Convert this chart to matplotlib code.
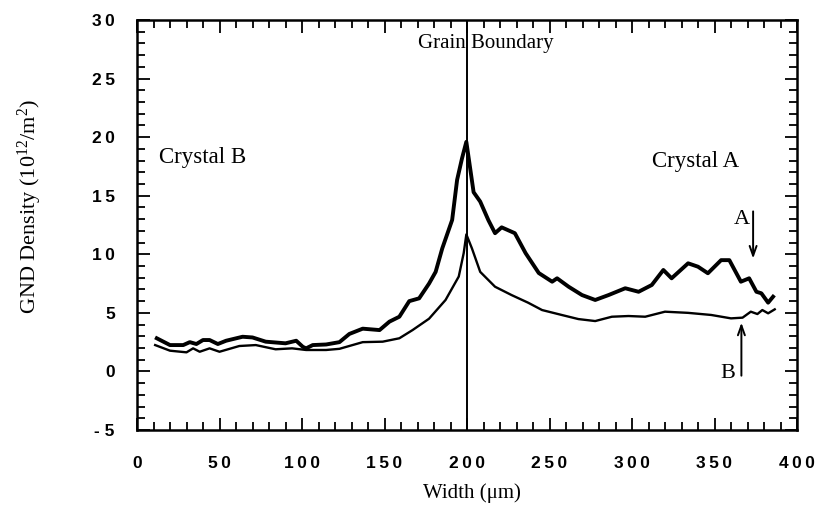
import matplotlib
matplotlib.use("Agg")
import matplotlib.pyplot as plt
from matplotlib.ticker import MultipleLocator, FixedLocator

# ---- data ----
xa = [12, 20, 28, 32, 36, 40, 44, 49, 54, 64, 70, 78, 90, 96.5, 100.5, 102.5, 106.5,
      114.6, 122.7, 128.7, 136.8, 147, 153, 159, 165, 171, 177, 181, 185, 191, 194,
      197, 199.6, 204, 208, 213, 217, 221, 229, 235.5, 243.5, 251.6, 254.6, 261.6,
      269.7, 277.7, 285.8, 295.9, 304, 312, 319, 324, 334, 340, 346, 354, 359, 366,
      371, 375.4, 378.4, 382.5, 385.5]
ya = [2.83, 2.25, 2.25, 2.5, 2.34, 2.68, 2.68, 2.34, 2.62, 2.96, 2.9, 2.54, 2.4, 2.62,
      2.1, 1.97, 2.25, 2.3, 2.5, 3.2, 3.65, 3.53, 4.25, 4.67, 6.0, 6.24, 7.5, 8.5,
      10.5, 12.93, 16.35, 18.2, 19.6, 15.3, 14.5, 12.9, 11.8, 12.3, 11.8, 10.1, 8.4,
      7.66, 7.95, 7.23, 6.52, 6.1, 6.52, 7.1, 6.8, 7.38, 8.66, 7.95, 9.23, 8.94, 8.38,
      9.5, 9.5, 7.66, 7.95, 6.8, 6.67, 5.87, 6.38]

xb = [11, 20, 30, 34, 38, 44, 50, 62, 72, 84, 94, 102.5, 114.6, 122.7, 136.8, 148.9,
      159, 167, 177, 187, 195, 198, 199.6, 203, 208, 217, 227, 237, 245.5, 257.4,
      267.5, 277.7, 287.8, 297.9, 308, 320, 334, 348, 360, 367, 372, 376, 379, 382.5,
      386.5]
yb = [2.25, 1.77, 1.63, 1.97, 1.68, 1.97, 1.68, 2.17, 2.25, 1.89, 1.97, 1.83, 1.83,
      1.93, 2.5, 2.54, 2.83, 3.53, 4.5, 6.1, 8.1, 10.1, 11.7, 10.5, 8.5, 7.23, 6.52,
      5.87, 5.24, 4.82, 4.47, 4.3, 4.67, 4.73, 4.67, 5.1, 5.0, 4.82, 4.53, 4.59, 5.1,
      4.9, 5.24, 4.96, 5.3]

xticks = [0, 50, 100, 150, 200, 250, 300, 350, 400]
yticks = [-5, 0, 5, 10, 15, 20, 25, 30]
boundary_x = 200

plt.rcParams['mathtext.fontset'] = 'custom'
plt.rcParams['mathtext.rm'] = 'Liberation Serif'
plt.rcParams['mathtext.it'] = 'Liberation Serif:italic'

serif = ['Liberation Serif', 'DejaVu Serif']
sans = ['Liberation Sans', 'DejaVu Sans']

fig = plt.figure(figsize=(8.19, 5.07), dpi=100)
ax = fig.add_axes([137/819, 1-430/507, 660/819, 410/507])

ax.plot(xa, ya, color='black', lw=2.8, solid_joinstyle='round')
ax.plot(xb, yb, color='black', lw=1.7, solid_joinstyle='round')
ax.axvline(boundary_x, color='black', lw=1.4)

ax.set_xlim(0, 400)
ax.set_ylim(-5, 30)

ax.xaxis.set_major_locator(FixedLocator(xticks))
ax.xaxis.set_minor_locator(MultipleLocator(10))
ax.yaxis.set_major_locator(FixedLocator(yticks))
ax.yaxis.set_minor_locator(MultipleLocator(1))

def fmt(v, sep):
    s = str(v)
    if s.startswith('-'):
        return '- ' + sep.join(s[1:])
    return sep.join(s)

ax.set_xticklabels([fmt(v, '\u2009') for v in xticks], family=sans,
                   fontweight='bold', fontsize=12.5)
ax.set_yticklabels([fmt(v, '\u2009') for v in yticks], family=sans,
                   fontweight='bold', fontsize=12.5)

ax.tick_params(which='both', direction='in', top=True, right=True, width=1.3)
ax.tick_params(which='major', length=9)
ax.tick_params(which='minor', length=5.5)
ax.tick_params(axis='y', which='major', pad=16)
ax.tick_params(axis='x', which='major', pad=19)
for sp in ax.spines.values():
    sp.set_linewidth(1.8)

ax.set_xlabel('Width (\u03bcm)', family=serif, fontsize=15)
ax.xaxis.set_label_coords(0.508, -0.154)
ax.xaxis.label.set_va('center')
ax.set_ylabel('GND Density (10$^{12}$/m$^{2}$)', family=serif, fontsize=16)
ax.yaxis.set_label_coords(-0.162, 0.544)
ax.yaxis.label.set_va('center')

ax.text(170.4, 28.0, 'Grain Boundary', family=serif, fontsize=15,
        ha='left', va='center')
ax.text(40, 18.3, 'Crystal B', family=serif, fontsize=16.5,
        ha='center', va='center')
ax.text(338.4, 17.9, 'Crystal A', family=serif, fontsize=16.5,
        ha='center', va='center')

ax.annotate('', xy=(373.4, 9.4), xytext=(373.4, 13.9),
            arrowprops=dict(arrowstyle='->,head_length=0.7,head_width=0.25',
                            color='black', lw=1.4))
ax.text(366.3, 13.0, 'A', family=serif, fontsize=16, ha='center', va='center')
ax.annotate('', xy=(366.3, 4.4), xytext=(366.3, -0.6),
            arrowprops=dict(arrowstyle='->,head_length=0.7,head_width=0.25',
                            color='black', lw=1.4))
ax.text(358.3, -0.2, 'B', family=serif, fontsize=16, ha='center', va='center')

fig.savefig('out.png', dpi=100)
